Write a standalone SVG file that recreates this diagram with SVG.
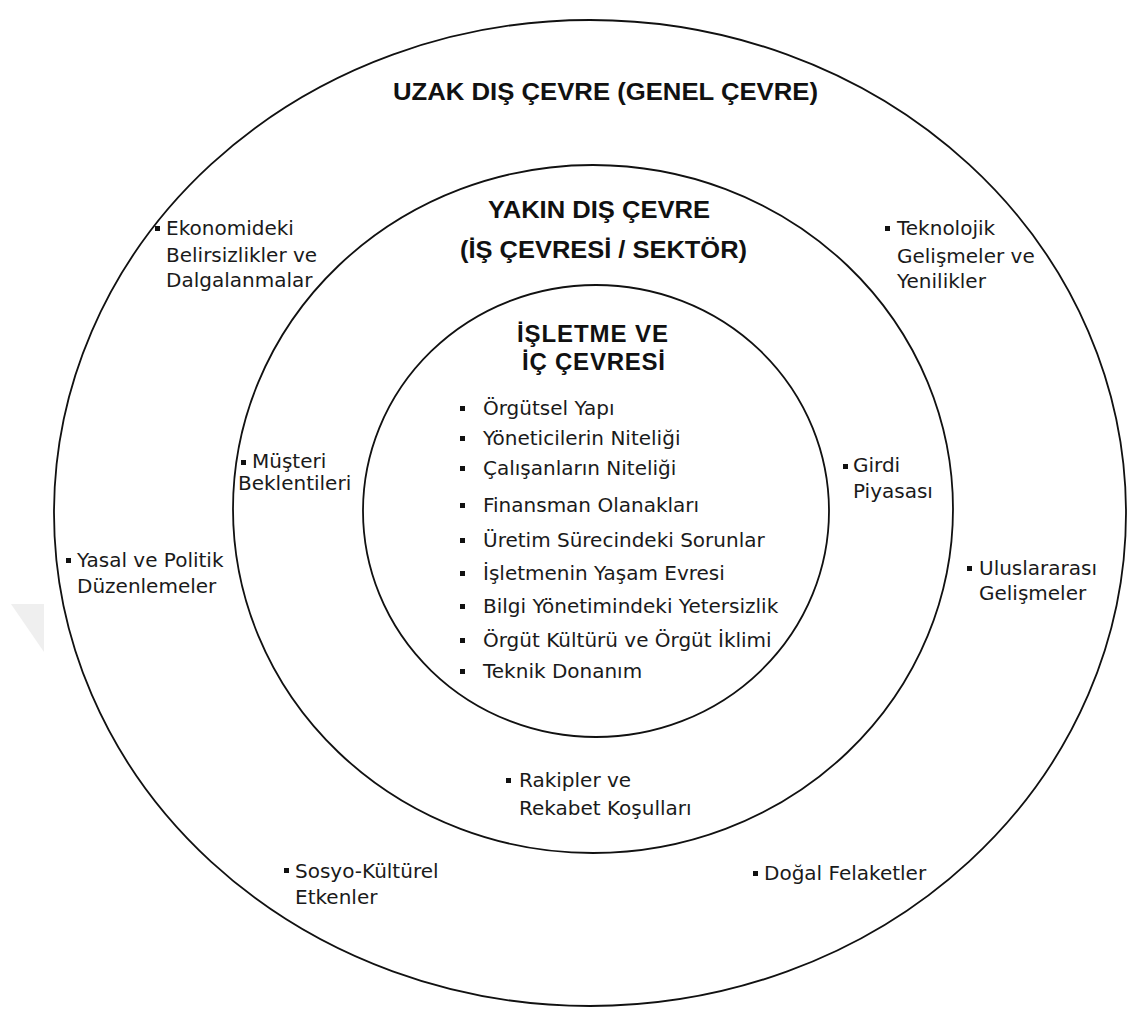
<svg xmlns="http://www.w3.org/2000/svg" width="1131" height="1017" viewBox="0 0 1131 1017">
<style>
.ring{fill:#ffffff;stroke:#111111;stroke-width:1.8}
.title{font-family:"Liberation Sans",Arial,sans-serif;font-weight:bold;font-size:24px;fill:#111111}
.item{font-family:"DejaVu Sans","Liberation Sans",sans-serif;font-size:20px;fill:#1a1a1a}
.blt{fill:#111111}
</style>
<rect width="1131" height="1017" fill="#ffffff"/>
<polygon points="11,604 44,604 44,652" fill="#efefef"/>
<g id="connectors"></g>
<g id="uzak-dis-cevre">
  <ellipse class="ring" cx="590" cy="513" rx="536" ry="493"/>
  <text class="title" x="393" y="100" textLength="425" lengthAdjust="spacingAndGlyphs">UZAK DIŞ ÇEVRE (GENEL ÇEVRE)</text>
</g>
<g id="yakin-dis-cevre">
  <ellipse class="ring" cx="593" cy="509" rx="360" ry="344"/>
  <text class="title" x="488" y="218" textLength="222" lengthAdjust="spacingAndGlyphs">YAKIN DIŞ ÇEVRE</text>
  <text class="title" x="460" y="258" textLength="287" lengthAdjust="spacingAndGlyphs">(İŞ ÇEVRESİ / SEKTÖR)</text>
</g>
<g id="isletme-ic-cevre">
  <ellipse class="ring" cx="596" cy="511" rx="233" ry="226"/>
  <text class="title" x="517" y="342" textLength="151">İŞLETME VE</text>
  <text class="title" x="522" y="370" textLength="143">İÇ ÇEVRESİ</text>
</g>
<g id="ekonomi">
  <rect class="blt" x="155" y="226" width="5" height="5"/>
  <text class="item" x="166" y="235">Ekonomideki</text>
  <text class="item" x="166" y="262">Belirsizlikler ve</text>
  <text class="item" x="166" y="287">Dalgalanmalar</text>
</g>
<g id="teknoloji">
  <rect class="blt" x="885" y="226" width="5" height="5"/>
  <text class="item" x="897" y="235">Teknolojik</text>
  <text class="item" x="897" y="263">Gelişmeler ve</text>
  <text class="item" x="897" y="288">Yenilikler</text>
</g>
<g id="musteri">
  <rect class="blt" x="241" y="460" width="5" height="5"/>
  <text class="item" x="252" y="468">Müşteri</text>
  <text class="item" x="238" y="490">Beklentileri</text>
</g>
<g id="girdi">
  <rect class="blt" x="843" y="464" width="5" height="5"/>
  <text class="item" x="853" y="472">Girdi</text>
  <text class="item" x="853" y="498">Piyasası</text>
</g>
<g id="yasal">
  <rect class="blt" x="66" y="558" width="5" height="5"/>
  <text class="item" x="77" y="567">Yasal ve Politik</text>
  <text class="item" x="77" y="593">Düzenlemeler</text>
</g>
<g id="uluslararasi">
  <rect class="blt" x="967" y="566" width="5" height="5"/>
  <text class="item" x="979" y="575">Uluslararası</text>
  <text class="item" x="979" y="600">Gelişmeler</text>
</g>
<g id="rakipler">
  <rect class="blt" x="506" y="778" width="5" height="5"/>
  <text class="item" x="519" y="787">Rakipler ve</text>
  <text class="item" x="519" y="815">Rekabet Koşulları</text>
</g>
<g id="sosyo">
  <rect class="blt" x="284" y="868" width="5" height="5"/>
  <text class="item" x="295" y="878">Sosyo-Kültürel</text>
  <text class="item" x="295" y="904">Etkenler</text>
</g>
<g id="dogal">
  <rect class="blt" x="753" y="871" width="5" height="5"/>
  <text class="item" x="764" y="880">Doğal Felaketler</text>
</g>
<g id="ic-cevre-listesi">
  <rect class="blt" x="460" y="406" width="5" height="5"/>
  <text class="item" x="483" y="415">Örgütsel Yapı</text>
  <rect class="blt" x="460" y="436" width="5" height="5"/>
  <text class="item" x="483" y="445">Yöneticilerin Niteliği</text>
  <rect class="blt" x="460" y="466" width="5" height="5"/>
  <text class="item" x="483" y="475">Çalışanların Niteliği</text>
  <rect class="blt" x="460" y="503" width="5" height="5"/>
  <text class="item" x="483" y="512">Finansman Olanakları</text>
  <rect class="blt" x="460" y="538" width="5" height="5"/>
  <text class="item" x="483" y="547">Üretim Sürecindeki Sorunlar</text>
  <rect class="blt" x="460" y="571" width="5" height="5"/>
  <text class="item" x="483" y="580">İşletmenin Yaşam Evresi</text>
  <rect class="blt" x="460" y="604" width="5" height="5"/>
  <text class="item" x="483" y="613">Bilgi Yönetimindeki Yetersizlik</text>
  <rect class="blt" x="460" y="638" width="5" height="5"/>
  <text class="item" x="483" y="647">Örgüt Kültürü ve Örgüt İklimi</text>
  <rect class="blt" x="460" y="669" width="5" height="5"/>
  <text class="item" x="483" y="678">Teknik Donanım</text>
</g>
</svg>
